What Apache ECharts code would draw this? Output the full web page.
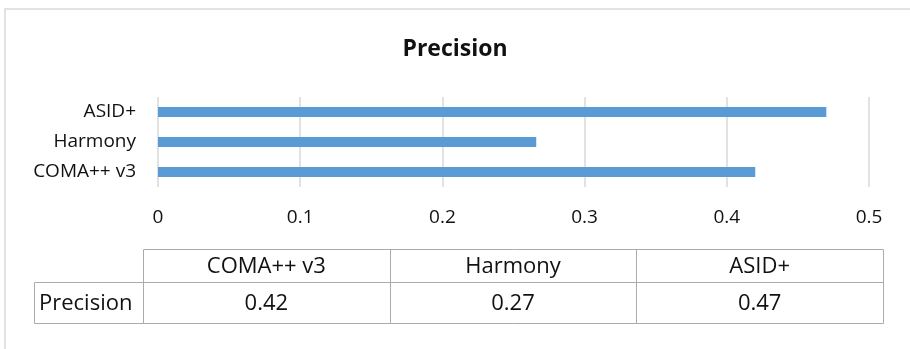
<!DOCTYPE html>
<html>
<head>
<meta charset="utf-8">
<script src="https://cdn.jsdelivr.net/npm/echarts@6/dist/echarts.min.js"></script>
<style>
html, body { margin: 0; padding: 0; background: #fff; }
#chart { width: 910px; height: 349px; }
</style>
</head>
<body>
<div id="chart"></div>
<script>
var myChart = echarts.init(document.getElementById('chart'));

// data
var categories = ['COMA++ v3', 'Harmony', 'ASID+'];
var precision = [0.42, 0.266, 0.47];
var tableValues = ['0.42', '0.27', '0.47'];
var seriesName = 'Precision';

var font = "'Open Sans', sans-serif";

// data table below the chart
var tLeft = 143, tRight = 883, tTop = 249, tMid = 282, tBottom = 323, labelLeft = 34;
var colW = (tRight - tLeft) / categories.length;
var lineStyle = { stroke: '#ababab', lineWidth: 1, fill: null };
var graphics = [];

// outer frame
graphics.push({ type: 'polyline', shape: { points: [[5, 360], [5, 9], [920, 9]] },
	style: { stroke: '#e3e3e3', lineWidth: 2, fill: null } });

graphics.push({ type: 'rect', shape: { x: tLeft + 0.5, y: tTop + 0.5, width: tRight - tLeft, height: tBottom - tTop }, style: lineStyle });
graphics.push({ type: 'rect', shape: { x: labelLeft + 0.5, y: tMid + 0.5, width: tLeft - labelLeft, height: tBottom - tMid }, style: lineStyle });
graphics.push({ type: 'line', shape: { x1: tLeft, y1: tMid + 0.5, x2: tRight, y2: tMid + 0.5 }, style: lineStyle });
for (var i = 1; i < categories.length; i++) {
	var x = Math.round(tLeft + colW * i) + 0.5;
	graphics.push({ type: 'line', shape: { x1: x, y1: tTop, x2: x, y2: tBottom }, style: lineStyle });
}
for (var i = 0; i < categories.length; i++) {
	var cx = tLeft + colW * (i + 0.5);
	graphics.push({ type: 'text', x: cx, y: (tTop + tMid) / 2 + 1,
		style: { text: categories[i], font: '22px ' + font, fill: '#111', align: 'center', verticalAlign: 'middle' } });
	graphics.push({ type: 'text', x: cx, y: (tMid + tBottom) / 2 + 1,
		style: { text: tableValues[i], font: '22px ' + font, fill: '#111', align: 'center', verticalAlign: 'middle' } });
}
graphics.push({ type: 'text', x: labelLeft + 5, y: (tMid + tBottom) / 2 + 1,
	style: { text: seriesName, font: '22px ' + font, fill: '#111', align: 'left', verticalAlign: 'middle' } });

option = {
	animation: false,
	title: {
		text: 'Precision',
		left: 'center',
		top: 33,
		textStyle: { fontFamily: font, fontSize: 23, fontWeight: 'bold', color: '#111' }
	},
	grid: { left: 158, right: 41, top: 97, bottom: 162 },
	xAxis: {
		type: 'value',
		min: 0,
		max: 0.5,
		interval: 0.1,
		axisLine: { show: false },
		axisTick: { show: false },
		splitLine: { show: true, lineStyle: { color: '#d9d9d9', width: 1.5 } },
		axisLabel: { fontFamily: font, fontSize: 19, color: '#111', margin: 21 }
	},
	yAxis: {
		type: 'category',
		data: categories,
		axisLine: { show: false },
		axisTick: { show: false },
		axisLabel: { fontFamily: font, fontSize: 19, color: '#111', margin: 22 }
	},
	series: [{
		name: seriesName,
		type: 'bar',
		data: precision,
		barWidth: 10,
		itemStyle: { color: '#5b9bd5' }
	}],
	graphic: graphics
};

myChart.setOption(option);
</script>
</body>
</html>
